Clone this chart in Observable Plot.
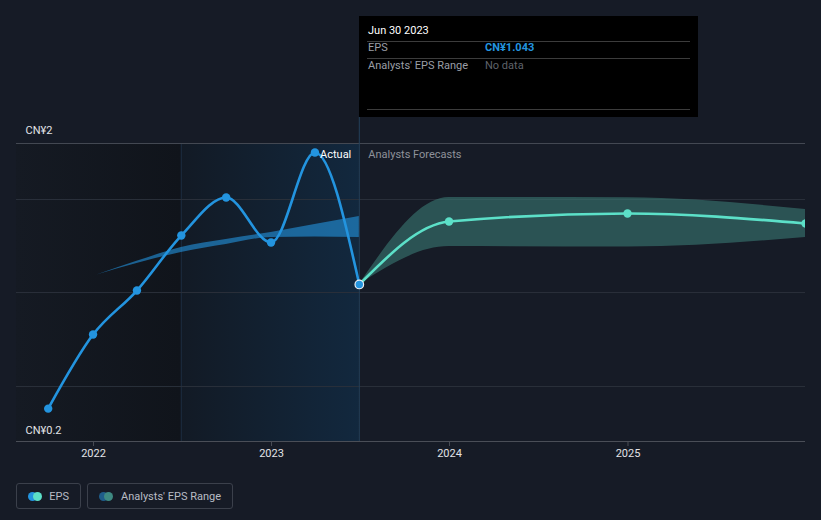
<!DOCTYPE html>
<html><head><meta charset="utf-8">
<script src="https://cdn.jsdelivr.net/npm/d3@7"></script>
<script src="https://cdn.jsdelivr.net/npm/@observablehq/plot@0.6"></script>
<style>
body{margin:0;background:#161b26;font-family:Roboto,"Noto Sans",sans-serif;}
#wrap{position:relative;width:821px;height:520px;overflow:hidden;}
#chart svg{display:block;}
#tip{position:absolute;left:359px;top:16px;width:339px;height:101px;background:#000;font-size:11px;}
#tip .a{position:absolute;line-height:14px;white-space:nowrap;}
#tip .hr{position:absolute;left:8px;right:8px;height:1px;background:#3c3c3c;}
#legend{position:absolute;left:16px;top:483px;display:flex;gap:6px;}
.lg{box-sizing:border-box;height:26px;border:1px solid #3b404b;border-radius:3px;display:flex;align-items:center;padding:0 11px 0 11px;font-size:11px;color:#b8bcc4;}
.dots{position:relative;width:14px;height:9px;margin-right:8px;}
.dots span{position:absolute;top:0;width:9px;height:9px;border-radius:50%;}
</style></head>
<body><div id="wrap">
<div id="chart"></div>
<div id="tip">
  <div class="a" style="left:9px;top:8px;color:#fff;">Jun 30 2023</div>
  <div class="hr" style="top:25px;"></div>
  <div class="a" style="left:9px;top:25px;color:#9a9ea6;">EPS</div>
  <div class="a" style="left:126px;top:25px;color:#2394df;font-weight:bold;">CN¥1.043</div>
  <div class="hr" style="top:42px;"></div>
  <div class="a" style="left:9px;top:43px;color:#9a9ea6;">Analysts' EPS Range</div>
  <div class="a" style="left:126px;top:43px;color:#5f636b;">No data</div>
  <div class="hr" style="top:93px;"></div>
</div>
<div id="legend">
  <div class="lg" style="width:65px;"><div class="dots"><span style="left:0;background:#2394df"></span><span style="left:5px;background:#5ce0c8"></span></div>EPS</div>
  <div class="lg" style="width:146px;"><div class="dots"><span style="left:0;background:#1f5d8a"></span><span style="left:5px;background:#3e8a82"></span></div>Analysts' EPS Range</div>
</div>
</div>
<script>
// ---- data ----
const actualDates = ["2021-09-30","2021-12-31","2022-03-31","2022-06-30","2022-09-30","2022-12-31","2023-03-31","2023-06-30"];
const actualEps   = [0.20, 0.703, 1.002, 1.375, 1.633, 1.328, 1.939, 1.043];

const forecastDates = ["2023-06-30","2023-12-31","2024-12-31","2025-12-31"];
const forecastEps   = [1.043, 1.47, 1.525, 1.457];
const forecastLow   = [1.043, 1.30, 1.297, 1.362];
const forecastHigh  = [1.043, 1.633, 1.631, 1.552];

const pastRangeDates = ["2022-01-08","2022-03-31","2022-06-30","2022-09-30","2022-12-31","2023-03-31","2023-06-30"];
const pastRangeLow   = [1.108, 1.185, 1.26, 1.314, 1.362, 1.366, 1.362];
const pastRangeHigh  = [1.108, 1.200, 1.294, 1.348, 1.396, 1.450, 1.504];

const gridValues = [1.62, 0.988, 0.35];
const yearTicks = ["2022-01-01","2023-01-01","2024-01-01","2025-01-01"];
const yLabels = [{v: 2.0, t: "CN¥2"}, {v: -0.023, t: "CN¥0.2"}];
const xDomain = ["2021-07-27","2025-12-31"];
const yDomain = [-0.023, 2.0];
const pastStart = "2022-06-30";
const nowDate = "2023-06-30";

// ---- tables ----
const D = s => new Date(s);
const actual = actualDates.map((d,i)=>({date:D(d), v:actualEps[i]}));
const forecast = forecastDates.map((d,i)=>({date:D(d), v:forecastEps[i], lo:forecastLow[i], hi:forecastHigh[i]}));
const pastRange = pastRangeDates.map((d,i)=>({date:D(d), lo:pastRangeLow[i], hi:pastRangeHigh[i]}));
const regions = [
  {x1:D(xDomain[0]), x2:D(pastStart), y1:yDomain[0], y2:yDomain[1]},
  {x1:D(pastStart), x2:D(nowDate), y1:yDomain[0], y2:yDomain[1]}
];

const defs = () => {
  const g = d3.create("svg:defs");
  const l = g.append("linearGradient").attr("id","gLeft").attr("x1","0").attr("x2","1").attr("y1","0").attr("y2","0");
  l.append("stop").attr("offset","0").attr("stop-color","#151a23");
  l.append("stop").attr("offset","1").attr("stop-color","#10141b");
  const m = g.append("linearGradient").attr("id","gMid").attr("x1","0").attr("x2","1").attr("y1","0").attr("y2","0");
  m.append("stop").attr("offset","0").attr("stop-color","#121a25");
  m.append("stop").attr("offset","1").attr("stop-color","#12283e");
  return g.node();
};

const chart = Plot.plot({
  width: 821, height: 470,
  marginLeft: 16, marginRight: 16, marginTop: 143, marginBottom: 29,
  style: {background: "transparent", color: "#dcdde0", fontFamily: "Roboto, sans-serif", fontSize: "11px"},
  x: {type: "utc", domain: xDomain.map(D)},
  y: {domain: yDomain, axis: null},
  marks: [
    defs,
    Plot.rect(regions.slice(0,1), {x1:"x1", x2:"x2", y1:"y1", y2:"y2", fill:"url(#gLeft)"}),
    Plot.rect(regions.slice(1,2), {x1:"x1", x2:"x2", y1:"y1", y2:"y2", fill:"url(#gMid)"}),
    Plot.ruleX([D(pastStart)], {y1: yDomain[0], y2: yDomain[1], stroke: "#1c2d40", strokeWidth: 1}),
    Plot.ruleY(gridValues, {stroke: "#2b313b", strokeWidth: 1}),
    Plot.ruleY([yDomain[1]], {stroke: "#434852", strokeWidth: 1}),
    Plot.ruleX([D(nowDate)], {y1: yDomain[0], y2: 2.177, stroke: "#23405a", strokeWidth: 1, clip: false}),
    Plot.ruleY([yDomain[0]], {stroke: "#4a4e57", strokeWidth: 1}),
    Plot.axisX({ticks: yearTicks.map(D), tickFormat: "%Y", tickSize: 5, tickPadding: 3, stroke: "#4a4e57", fill: "#e2e3e6", fontSize: 11}),
    Plot.areaY(pastRange, {x: "date", y1: "lo", y2: "hi", curve: "monotone-x", fill: "#2394df", fillOpacity: 0.6}),
    Plot.areaY(forecast, {x: "date", y1: "lo", y2: "hi", curve: "monotone-x", fill: "#3a7a73", fillOpacity: 0.6}),
    Plot.line(actual, {x: "date", y: "v", curve: "monotone-x", stroke: "#2394df", strokeWidth: 2.6}),
    Plot.line(forecast, {x: "date", y: "v", curve: "monotone-x", stroke: "#5ce0c8", strokeWidth: 2.6, clip: true}),
    Plot.dot(actual.slice(0, -1), {x: "date", y: "v", r: 4.2, fill: "#2394df"}),
    Plot.dot(forecast.slice(1), {x: "date", y: "v", r: 4.2, fill: "#5ce0c8", clip: true}),
    Plot.dot(actual.slice(-1), {x: "date", y: "v", r: 4.3, fill: "#2394df", stroke: "#e8eef5", strokeWidth: 1.2}),
    Plot.text(yLabels.slice(0,1), {y: "v", text: "t", frameAnchor: "left", textAnchor: "start", dx: 9, dy: -13, fill: "#e2e3e6", fontSize: 11}),
    Plot.text(yLabels.slice(1), {y: "v", text: "t", frameAnchor: "left", textAnchor: "start", dx: 9, dy: -11, fill: "#e2e3e6", fontSize: 11}),
    Plot.text([{date: D(nowDate), v: yDomain[1]}], {x: "date", y: "v", text: () => "Actual", textAnchor: "end", dx: -8, dy: 11, fill: "#ffffff", fontSize: 11}),
    Plot.text([{date: D(nowDate), v: yDomain[1]}], {x: "date", y: "v", text: () => "Analysts Forecasts", textAnchor: "start", dx: 9, dy: 11, fill: "#8e929a", fontSize: 11})
  ]
});
document.getElementById("chart").appendChild(chart);
</script>
</body></html>
